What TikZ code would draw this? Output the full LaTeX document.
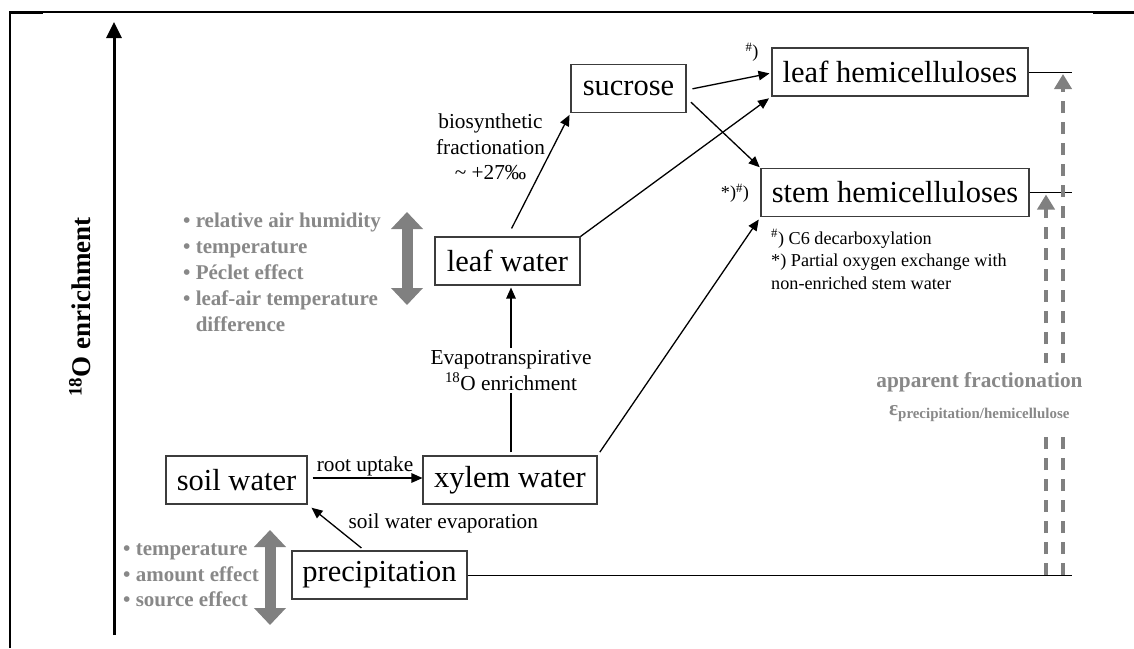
\documentclass[tikz,border=0pt]{standalone}
\usepackage{fontspec}
\setmainfont{Liberation Serif}
\usetikzlibrary{arrows.meta}
\definecolor{fgrey}{RGB}{128,128,128}
\definecolor{tgrey}{RGB}{136,136,136}
\definecolor{bordergrey}{RGB}{60,60,60}
\begin{document}
\begin{tikzpicture}[x=1pt,y=-1pt,
  box/.style={draw=bordergrey, line width=1.1pt, minimum height=48pt, inner sep=0pt,
              font=\fontsize{30.5}{36}\selectfont},
  lab/.style={font=\fontsize{21.3}{25.5}\selectfont, inner sep=1pt},
  foot/.style={font=\fontsize{18.2}{22.5}\selectfont, inner sep=0pt},
  arr/.style={line width=1.3pt, -{Triangle[length=11pt,width=9.5pt]}},
  plain/.style={line width=0.9pt},
  greylist/.style={text=tgrey, font=\fontsize{21}{26}\selectfont\bfseries, align=left, inner sep=0pt},
  garr/.style={draw=fgrey, line width=11pt,
               {Triangle[length=17pt,width=31pt]}-{Triangle[length=17pt,width=31pt]}},
  darr/.style={draw=fgrey, line width=4pt, dash pattern=on 12pt off 9pt,
               -{Triangle[length=15pt,width=17pt]}}
]
\useasboundingbox (0,0) rectangle (1134,648);
% frame
\coordinate (fbl) at (10,648);
\coordinate (ftl) at (10,12);
\coordinate (ftr) at (1134,12);
\draw[line width=2pt] (fbl) -- (ftl) -- (ftr);
\draw[line width=3pt] (1093,12) -- (ftr);
\draw[line width=3pt] (ftl) -- (43,12);

% axis
\coordinate (axb) at (114,635);
\coordinate (axt) at (114,22);
\draw[line width=3pt, -{Triangle[length=16pt,width=15pt]}] (axb) -- (axt);
\node[rotate=90, font=\fontsize{27}{30}\selectfont\bfseries] (axlab) at (80,307)
  {\textsuperscript{18}O enrichment};

% boxes
\node[box, minimum width=141pt] (soil) at (236.5,480) {soil water};
\node[box, minimum width=175pt] (precip) at (379.5,575) {precipitation};
\node[box, minimum width=174pt] (xylem) at (510,480) {xylem water};
\node[box, minimum width=145pt] (leafw) at (507.5,261) {leaf water};
\node[box, minimum width=115pt] (sucrose) at (628.5,88.5) {sucrose};
\node[box, minimum width=256pt] (lhemi) at (900,72) {leaf hemicelluloses};
\node[box, minimum width=268pt] (shemi) at (895,192.5) {stem hemicelluloses};

% connectors
\draw[arr, shorten <=5pt] ([yshift=2pt]soil.east) -- node[lab, above] (ru) {root uptake} ([yshift=2pt]xylem.west);
\draw[arr, shorten <=4pt, shorten >=5pt] ([xshift=-15pt]precip.north) -- node[lab, anchor=west, xshift=11pt, yshift=4pt] (swe) {soil water evaporation} (soil.south east);
\draw[arr, shorten <=3pt, shorten >=2pt] ([xshift=1pt]xylem.north) --
  node[lab, fill=white, align=center, inner sep=3pt] (evap) {Evapotranspirative\\\textsuperscript{18}O enrichment}
  ([xshift=3.5pt]leafw.south);
\draw[arr, shorten <=4pt, shorten >=3pt] (xylem.north east) -- (shemi.south west);
\draw[arr, shorten >=3pt] (leafw.north east) -- (lhemi.south west);
\draw[arr, shorten <=9pt, shorten >=2pt] (leafw.north) --
  node[lab, align=center, xshift=-48.5pt, yshift=27.5pt] (bio) {biosynthetic\\fractionation\\\textasciitilde\ +27‰}
  (sucrose.south west);
\draw[arr, shorten <=6pt, shorten >=2pt] ([yshift=-1.5pt]sucrose.east) -- ([yshift=-1pt]lhemi.west);
\draw[arr, shorten <=6pt, shorten >=1pt] ([yshift=-9.5pt]sucrose.east) -- (shemi.north west);

% annotations
\node[foot] (n1) at (752,52) {\textsuperscript{\#})};
\node[foot] (n2) at (735,193) {*)\textsuperscript{\#})};
\node[foot, anchor=west, align=left] (fn) at (771,259.5)
  {\textsuperscript{\#}) C6 decarboxylation\\*) Partial oxygen exchange with\\non-enriched stem water};

% right reference lines
\coordinate (rx) at (1072,0);
\draw[plain] (precip.east) -- (precip.east -| rx);
\draw[plain] (lhemi.east) -- (lhemi.east -| rx);
\draw[plain] (shemi.east) -- (shemi.east -| rx);

% dashed apparent fractionation arrows
\coordinate (d1) at (1063,575);
\coordinate (d2) at (1046,575);
\draw[darr, shorten >=2pt] (d1) -- (d1 |- lhemi.east);
\draw[darr, shorten >=2pt] (d2) -- (d2 |- shemi.east);
\node[fill=white, text=tgrey, align=center, inner sep=9pt,
      font=\fontsize{21.3}{28}\selectfont\bfseries] (appf) at (979.5,397)
  {apparent fractionation\\ε\textsubscript{precipitation/hemicellulose}};

% grey influence lists
\node[greylist, anchor=west] (list1) at (183,272.5)
  {\textbullet\ relative air humidity\\\textbullet\ temperature\\\textbullet\ Péclet effect\\\textbullet\ leaf-air temperature\\\hphantom{\textbullet\ }difference};
\coordinate (g1t) at (407,212);
\coordinate (g1b) at (407,305);
\draw[garr] (g1t) -- (g1b);
\node[greylist, anchor=west, font=\fontsize{21}{25.5}\selectfont\bfseries] (list2) at (123,575.5)
  {\textbullet\ temperature\\\textbullet\ amount effect\\\textbullet\ source effect};
\coordinate (g2t) at (270,530);
\coordinate (g2b) at (270,625);
\draw[garr] (g2t) -- (g2b);
\end{tikzpicture}
\end{document}
